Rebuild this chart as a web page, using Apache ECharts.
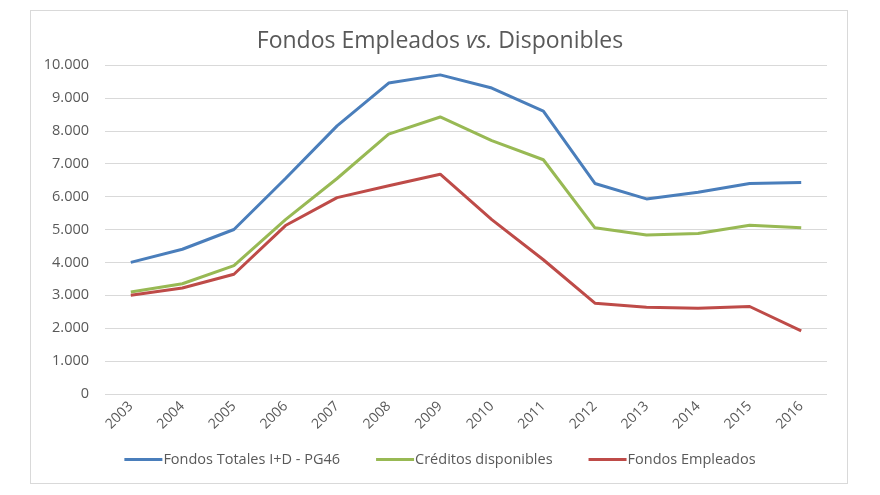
<!DOCTYPE html>
<html>
<head>
<meta charset="utf-8">
<script src="https://cdn.jsdelivr.net/npm/echarts@6/dist/echarts.min.js"></script>
<style>
  html, body { margin: 0; padding: 0; background: #fff; }
  #frame { position: absolute; left: 30px; top: 10px; width: 816px; height: 472px; border: 1px solid #d9d9d9; }
  #main { width: 880px; height: 495px; }
</style>
</head>
<body>
<div id="frame"></div>
<div id="main"></div>
<script>
  const years = ['2003', '2004', '2005', '2006', '2007', '2008', '2009', '2010', '2011', '2012', '2013', '2014', '2015', '2016'];
  const fondosTotales = [4000, 4400, 5000, 6550, 8150, 9450, 9700, 9300, 8600, 6400, 5930, 6130, 6400, 6430];
  const creditos = [3100, 3350, 3900, 5300, 6550, 7900, 8420, 7700, 7120, 5050, 4830, 4880, 5130, 5050];
  const fondosEmpleados = [3000, 3220, 3640, 5120, 5970, 6330, 6680, 5300, 4080, 2760, 2640, 2610, 2660, 1920];

  const font = 'Open Sans, Liberation Sans, sans-serif';
  const chart = echarts.init(document.getElementById('main'));

  const line = (name, data, color) => ({
    name,
    type: 'line',
    data,
    symbol: 'none',
    smooth: false,
    lineStyle: { color, width: 3 },
    itemStyle: { color }
  });

  chart.setOption({
    animation: false,
    textStyle: { fontFamily: font },
    title: {
      text: 'Fondos Empleados {i|vs.} Disponibles',
      left: 'center',
      top: 25,
      textStyle: {
        color: '#595959',
        fontSize: 23,
        fontWeight: 'normal',
        fontFamily: font,
        rich: {
          i: { fontStyle: 'italic', fontSize: 23, color: '#595959', fontFamily: font }
        }
      }
    },
    grid: { left: 105, right: 53, top: 65, bottom: 101 },
    xAxis: {
      type: 'category',
      data: years,
      boundaryGap: true,
      axisLine: { show: false },
      axisTick: { show: false },
      axisLabel: { color: '#595959', fontSize: 14, rotate: 45, margin: 10, interval: 0 }
    },
    yAxis: {
      type: 'value',
      min: 0,
      max: 10000,
      interval: 1000,
      axisLine: { show: false },
      axisTick: { show: false },
      splitLine: { lineStyle: { color: '#d9d9d9', width: 1 } },
      axisLabel: {
        color: '#595959',
        fontSize: 14.5,
        margin: 16,
        formatter(v) {
          return String(v).replace(/\B(?=(\d{3})+(?!\d))/g, '.');
        }
      }
    },
    legend: {
      bottom: 23,
      left: 'center',
      itemWidth: 38,
      itemHeight: 3,
      itemGap: 36,
      icon: 'rect',
      textStyle: { color: '#595959', fontSize: 14.5, padding: [0, 0, 0, -4] },
      data: ['Fondos Totales I+D - PG46', 'Créditos disponibles', 'Fondos Empleados']
    },
    series: [
      line('Fondos Totales I+D - PG46', fondosTotales, '#4a7ebb'),
      line('Créditos disponibles', creditos, '#98b954'),
      line('Fondos Empleados', fondosEmpleados, '#be4b48')
    ]
  });
</script>
</body>
</html>
